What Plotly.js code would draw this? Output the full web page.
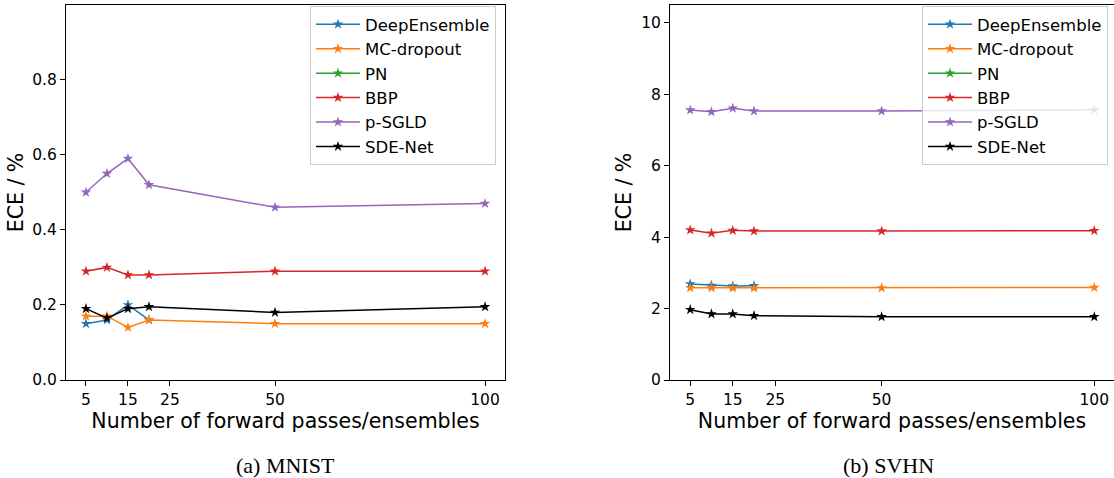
<!DOCTYPE html>
<html><head><meta charset="utf-8">
<script src="https://cdn.plot.ly/plotly-3.0.1.min.js"></script>
<style>html,body{margin:0;padding:0;background:#fff;}</style>
</head><body>
<div id="chart" style="width:1114px;height:478px;"></div>
<script>
const passes = [5, 10, 15, 20, 50, 100];
const methods = ["DeepEnsemble", "MC-dropout", "PN", "BBP", "p-SGLD", "SDE-Net"];
const colors = ["#1f77b4", "#ff7f0e", "#2ca02c", "#d62728", "#9467bd", "#000000"];
const xTicks = [5, 15, 25, 50, 100];

// MNIST ECE (%)
const mnistDeepEnsemble = [0.15, 0.16, 0.20, 0.16, null, null];
const mnistMCdropout   = [0.17, 0.17, 0.14, 0.16, 0.15, 0.15];
const mnistPN          = [null, null, null, null, null, null];
const mnistBBP         = [0.29, 0.30, 0.28, 0.28, 0.29, 0.29];
const mnistPSGLD       = [0.50, 0.55, 0.59, 0.52, 0.46, 0.47];
const mnistSDENet      = [0.19, 0.165, 0.19, 0.195, 0.18, 0.195];
const mnistYTicks = [0.0, 0.2, 0.4, 0.6, 0.8];

// SVHN ECE (%)
const svhnDeepEnsemble = [2.69, 2.65, 2.63, 2.64, null, null];
const svhnMCdropout   = [2.58, 2.58, 2.57, 2.57, 2.58, 2.59];
const svhnPN          = [null, null, null, null, null, null];
const svhnBBP         = [4.20, 4.11, 4.19, 4.17, 4.17, 4.18];
const svhnPSGLD       = [7.56, 7.51, 7.61, 7.53, 7.53, 7.57];
const svhnSDENet      = [1.97, 1.85, 1.85, 1.80, 1.77, 1.77];
const svhnYTicks = [0, 2, 4, 6, 8, 10];

const mnist = [mnistDeepEnsemble, mnistMCdropout, mnistPN, mnistBBP, mnistPSGLD, mnistSDENet];
const svhn = [svhnDeepEnsemble, svhnMCdropout, svhnPN, svhnBBP, svhnPSGLD, svhnSDENet];

const traces = [];
methods.forEach((m, i) => {
  traces.push({x: passes, y: mnist[i], name: m, type: 'scatter', mode: 'lines+markers',
    xaxis: 'x', yaxis: 'y', legend: 'legend', connectgaps: false,
    line: {color: colors[i], width: 1.5}, marker: {symbol: 'star', size: 8, color: colors[i]}});
});
methods.forEach((m, i) => {
  traces.push({x: passes, y: svhn[i], name: m, type: 'scatter', mode: 'lines+markers',
    xaxis: 'x2', yaxis: 'y2', legend: 'legend2', connectgaps: false,
    line: {color: colors[i], width: 1.5}, marker: {symbol: 'star', size: 8, color: colors[i]}});
});

const W = 1114, H = 478;
const tickFont = {family: 'DejaVu Sans', size: 15.5, color: '#000'};
const titleFont = {family: 'DejaVu Sans', size: 20.5, color: '#000'};
function xa(l, r, range, anchor) {
  return {domain: [l / W, r / W], anchor: anchor, range: range, tickvals: xTicks,
    ticktext: xTicks.map(String), ticks: 'outside', ticklen: 5, tickcolor: '#000', tickwidth: 1,
    showline: true, mirror: true, linecolor: '#000', linewidth: 1, showgrid: false, zeroline: false,
    tickfont: tickFont, title: {text: 'Number of forward passes/ensembles', font: titleFont, standoff: 3}};
}
function ya(range, ticks, anchor) {
  return {domain: [1 - 380 / H, 1 - 5 / H], anchor: anchor, range: range, tickvals: ticks,
    ticktext: ticks.map(v => range[1] < 2 ? v.toFixed(1) : String(v)),
    ticks: 'outside', ticklen: 5, tickcolor: '#000', tickwidth: 1,
    showline: true, mirror: true, linecolor: '#000', linewidth: 1, showgrid: false, zeroline: false,
    tickfont: tickFont, title: {text: 'ECE / %', font: titleFont, standoff: 3}};
}
const legendStyle = (x) => ({x: x / W, xanchor: 'left', y: 1 - 6 / H, yanchor: 'top',
  bgcolor: 'rgba(255,255,255,0.8)', bordercolor: '#cccccc', borderwidth: 1, itemwidth: 44,
  font: {family: 'DejaVu Sans', size: 16.5, color: '#000'}, tracegroupgap: 0});

const layout = {
  width: W, height: H, margin: {l: 0, r: 0, t: 0, b: 0},
  paper_bgcolor: '#fff', plot_bgcolor: '#fff', showlegend: true,
  xaxis: xa(66, 505, [0.25, 104.75], 'y'), yaxis: ya([0, 0.999], mnistYTicks, 'x'),
  xaxis2: xa(670, 1114, [0.25, 104.63], 'y2'), yaxis2: ya([0, 10.5], svhnYTicks, 'x2'),
  legend: legendStyle(310), legend2: legendStyle(922),
  annotations: [
    {text: '(a) MNIST', xref: 'paper', yref: 'paper', x: 285 / W, y: 1 - 465 / H, xanchor: 'center', yanchor: 'middle',
      showarrow: false, font: {family: 'Liberation Serif', size: 22, color: '#000'}},
    {text: '(b) SVHN', xref: 'paper', yref: 'paper', x: 888 / W, y: 1 - 465 / H, xanchor: 'center', yanchor: 'middle',
      showarrow: false, font: {family: 'Liberation Serif', size: 22, color: '#000'}}
  ]
};
Plotly.newPlot('chart', traces, layout, {displayModeBar: false, staticPlot: true});
</script>
</body></html>
